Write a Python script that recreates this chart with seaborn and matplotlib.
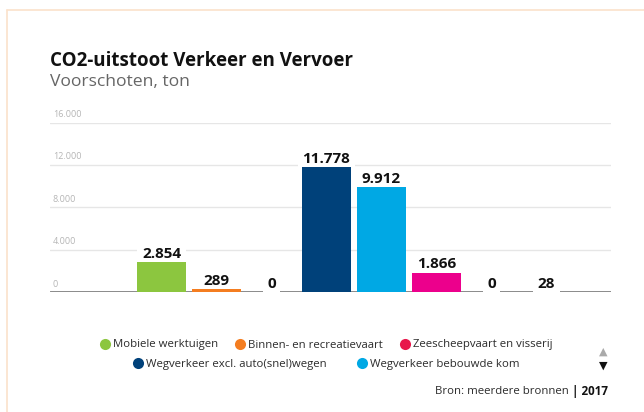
import matplotlib
matplotlib.use("Agg")
import matplotlib.pyplot as plt
import seaborn as sns
import pandas as pd
from matplotlib.lines import Line2D

sns.set_theme(style="white")
plt.rcParams['font.family'] = ['Open Sans', 'DejaVu Sans']

# data (Voorschoten, ton CO2, 2017)
categories = ['Mobiele werktuigen', 'Binnen- en recreatievaart', 'Zeescheepvaart en visserij',
              'Wegverkeer excl. auto(snel)wegen', 'Wegverkeer bebouwde kom',
              'Wegverkeer buitenwegen', 'Wegverkeer auto(snel)wegen', 'Railverkeer']
values = [2854, 289, 0, 11778, 9912, 1866, 0, 28]
colors = ['#8cc63f', '#f47d20', '#e8174b', '#00417a', '#00a8e4', '#ec008c', '#7f7f7f', '#5c2d91']
yticks = [0, 4000, 8000, 12000, 16000]
ytick_labels = ['0', '4.000', '8.000', '12.000', '16.000']
legend_rows = [categories[:3], categories[3:5]]

W, H = 644, 412
df = pd.DataFrame({'categorie': categories, 'ton': values})
palette = dict(zip(categories, colors))

fig = plt.figure(figsize=(W / 100, H / 100), dpi=100)
ax = fig.add_axes([50 / W, (H - 292.3) / H, 561 / W, 169.7 / H])

sns.barplot(data=df, x='categorie', y='ton', hue='categorie', palette=palette,
            order=categories, hue_order=categories, width=0.9, dodge=False,
            legend=False, saturation=1, ax=ax)
for p in ax.patches:
    p.set_zorder(3)
    p.set_linewidth(0)

ax.set_xlim(-2.027, 8.173)
ax.set_ylim(0, 16000)
ax.set_xticks([])
ax.set_yticks([])
ax.set_xlabel('')
ax.set_ylabel('')
for s in ax.spines.values():
    s.set_visible(False)

# grid lines + thick baseline
for v in yticks[1:]:
    ax.axhline(v, color='#e6e6e6', lw=1, zorder=0.5)
ax.axhline(0, color='#808080', lw=2, zorder=2)

for v, lbl in zip(yticks, ytick_labels):
    ax.annotate(lbl, xy=(0, v), xycoords=ax.get_yaxis_transform(),
                xytext=(2, 4), textcoords='offset points',
                fontsize=6.5, color='#b5b5b5', ha='left', va='baseline')

# value labels with white background
for i, v in enumerate(values):
    lbl = f'{v:,}'.replace(',', '.')
    ax.annotate(lbl, xy=(i, v), xytext=(0, 3), textcoords='offset points',
                ha='center', va='baseline', fontsize=11, fontweight='bold',
                color='#111111', zorder=2.5,
                bbox=dict(boxstyle='square,pad=0.3', fc='white', ec='none'))

# titles
fig.text(50 / W, 1 - 66 / H, 'CO2-uitstoot Verkeer en Vervoer', fontsize=13.5,
         fontweight='bold', color='#111111', ha='left', va='baseline')
fig.text(50 / W, 1 - 85.5 / H, 'Voorschoten, ton', fontsize=12.6,
         color='#666666', ha='left', va='baseline')

# legend, two centred rows
for row, yc, sp in zip(legend_rows, [345, 364], [1.45, 2.6]):
    handles = [Line2D([], [], marker='o', ls='none', markersize=8,
                      markerfacecolor=palette[c], markeredgecolor='none') for c in row]
    leg = fig.legend(handles, row, loc='center', bbox_to_anchor=(326 / W, 1 - yc / H),
                     ncol=len(row), frameon=False, fontsize=8.2, handlelength=1.0,
                     handletextpad=0.2, columnspacing=sp, borderpad=0, borderaxespad=0)
    for t in leg.get_texts():
        t.set_color('#2b2b2b')

fig.text(603 / W, 1 - 352 / H, '▲', family='DejaVu Sans', fontsize=8,
         color='#aaaaaa', ha='center', va='center')
fig.text(603 / W, 1 - 366 / H, '▼', family='DejaVu Sans', fontsize=8,
         color='#111111', ha='center', va='center')

yr = fig.text(608 / W, 1 - 392 / H, '| 2017', fontsize=8.4, fontweight='bold',
              color='#111111', ha='right', va='center')
ax.annotate('Bron: meerdere bronnen ', xy=(0, 0.5), xycoords=yr, ha='right', va='center',
            fontsize=8.2, color='#2b2b2b', annotation_clip=False)

# peach frame
fig.add_artist(Line2D([7 / W, 1], [1 - 10 / H, 1 - 10 / H], color='#fbe2cb', lw=1.2))
fig.add_artist(Line2D([7 / W, 7 / W], [1 - 10 / H, 0], color='#fbe2cb', lw=1.2))

fig.savefig('out.png', dpi=100)
